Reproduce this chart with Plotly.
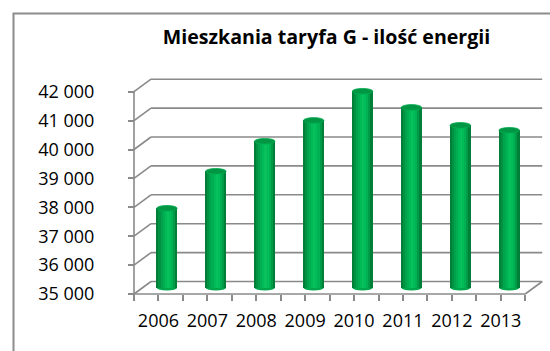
import plotly.graph_objects as go

# ---- data ----
years = ["2006", "2007", "2008", "2009", "2010", "2011", "2012", "2013"]
energy = [37750, 39030, 40070, 40790, 41800, 41240, 40620, 40450]
y_ticks = [35000, 36000, 37000, 38000, 39000, 40000, 41000, 42000]
y_tick_text = [f"{v:,}".replace(",", " ") for v in y_ticks]
title_text = "Mieszkania taryfa G - ilość energii"

# ---- layout geometry (pixels) ----
W, H = 550, 351
PLOT_L, PLOT_R, PLOT_T, PLOT_B = 131, 548, 74, 297
FRONT_X0, FRONT_Y0 = 134, 294          # pixel of category edge -0.5 / of y = 35000 on the front plane
PX_CAT, PX_K = 48.9, 28.9              # pixels per category / per 1000 units
DEPTH_X, DEPTH_Y = 17.0, 12.5          # 3-D depth offset of the back wall in pixels

y_min = y_ticks[0]
y_max = y_ticks[-1]
n = len(years)
dx = DEPTH_X / PX_CAT                  # depth offset in category units
dy = DEPTH_Y / PX_K * 1000             # depth offset in value units

x_range = [-0.5 - (FRONT_X0 - PLOT_L) / PX_CAT, -0.5 + (PLOT_R - FRONT_X0) / PX_CAT]
y_range = [y_min - (PLOT_B - FRONT_Y0) / PX_K * 1000, y_min + (FRONT_Y0 - PLOT_T) / PX_K * 1000]
pw, ph = PLOT_R - PLOT_L, PLOT_B - PLOT_T

GRID = "#8a8a8a"
GRID_W = 1.6

fig = go.Figure()

# ---- cylinders: vertical shading stripes, placed at mid depth ----
cyl_w = 20.5 / PX_CAT
stripe_colors = ["#007f39", "#009242", "#00a24b", "#00ae51", "#00b957",
                 "#08c05c", "#00bd59", "#00b052", "#009b47", "#007f39"]
ns = len(stripe_colors)
sw = cyl_w / ns
base = y_min + dy / 2
x_mid = [i + dx / 2 for i in range(n)]
for k, col in enumerate(stripe_colors):
    off = -cyl_w / 2 + sw * (k + 0.5)
    fig.add_trace(go.Bar(
        x=[xm + off for xm in x_mid],
        y=[v + dy / 2 - base for v in energy],
        base=base,
        width=sw * 1.25,
        marker=dict(color=col, line=dict(width=0)),
        hoverinfo="skip",
        showlegend=False,
    ))

shapes = []
# ---- 3-D walls: side-wall diagonals and back-wall gridlines ----
for v in y_ticks:
    shapes.append(dict(type="line", layer="below", xref="x", yref="y",
                       x0=-0.5, y0=v, x1=-0.5 + dx, y1=v + dy,
                       line=dict(color=GRID, width=GRID_W)))
    shapes.append(dict(type="line", layer="below", xref="x", yref="y",
                       x0=-0.5 + dx, y0=v + dy, x1=n - 0.5 + dx, y1=v + dy,
                       line=dict(color=GRID, width=GRID_W)))
# floor front edge and right edge
shapes.append(dict(type="line", layer="below", xref="x", yref="y",
                   x0=-0.5, y0=y_min, x1=n - 0.5, y1=y_min,
                   line=dict(color=GRID, width=GRID_W)))
shapes.append(dict(type="line", layer="below", xref="x", yref="y",
                   x0=n - 0.5, y0=y_min, x1=n - 0.5 + dx, y1=y_min + dy,
                   line=dict(color=GRID, width=GRID_W)))
# front value axis line
shapes.append(dict(type="line", layer="below", xref="x", yref="y",
                   x0=-0.5, y0=y_min, x1=-0.5, y1=y_max,
                   line=dict(color=GRID, width=GRID_W)))

# cylinder bottoms and tops (ellipses)
ell_h = 2.8 / PX_K * 1000
for xm, v in zip(x_mid, energy):
    shapes.append(dict(type="circle", layer="below", xref="x", yref="y",
                       x0=xm - cyl_w / 2, x1=xm + cyl_w / 2,
                       y0=base - ell_h, y1=base + ell_h,
                       fillcolor="#00a64c", line=dict(width=0)))
    top = v + dy / 2
    shapes.append(dict(type="circle", layer="above", xref="x", yref="y",
                       x0=xm - cyl_w / 2, x1=xm + cyl_w / 2,
                       y0=top - ell_h, y1=top + ell_h,
                       fillcolor="#009643", line=dict(color="#00ab4f", width=0.8)))

# chart-area border
shapes.append(dict(type="rect", layer="below", xref="paper", yref="paper",
                   x0=(13.5 - PLOT_L) / pw, x1=(W + 10 - PLOT_L) / pw,
                   y0=(PLOT_B - (H + 10)) / ph, y1=(PLOT_B - 13.5) / ph,
                   line=dict(color="#8c8c8c", width=2), fillcolor="rgba(0,0,0,0)"))

half_ticks = [i * 0.5 - 0.5 for i in range(2 * n + 1)]
half_text = [years[int(t)] if float(t).is_integer() else "" for t in half_ticks]

fig.update_layout(
    width=W, height=H, autosize=False,
    margin=dict(l=PLOT_L, r=W - PLOT_R, t=PLOT_T, b=H - PLOT_B, pad=0),
    paper_bgcolor="white", plot_bgcolor="white",
    barmode="overlay", bargap=0,
    shapes=shapes,
    font=dict(family="Open Sans", size=18, color="#000000"),
    title=dict(text=f"<b>{title_text}</b>", xref="container", yref="container",
               x=326.5 / W, y=1 - 37.5 / H, xanchor="center", yanchor="middle",
               font=dict(family="Open Sans", size=19.6, color="#000000")),
    xaxis=dict(range=x_range, anchor="free", position=(PLOT_B - FRONT_Y0) / ph,
               tickmode="array", tickvals=half_ticks, ticktext=half_text,
               ticks="outside", ticklen=6, tickwidth=1.5, tickcolor=GRID,
               showgrid=False, zeroline=False, showline=False,
               ticklabelstandoff=4, fixedrange=True),
    yaxis=dict(range=y_range, anchor="free", position=(FRONT_X0 - PLOT_L) / pw,
               tickmode="array", tickvals=y_ticks, ticktext=y_tick_text,
               ticks="outside", ticklen=6, tickwidth=1.5, tickcolor=GRID,
               showgrid=False, zeroline=False, showline=False,
               ticklabelstandoff=30, fixedrange=True),
)

fig.write_html("out.html")
